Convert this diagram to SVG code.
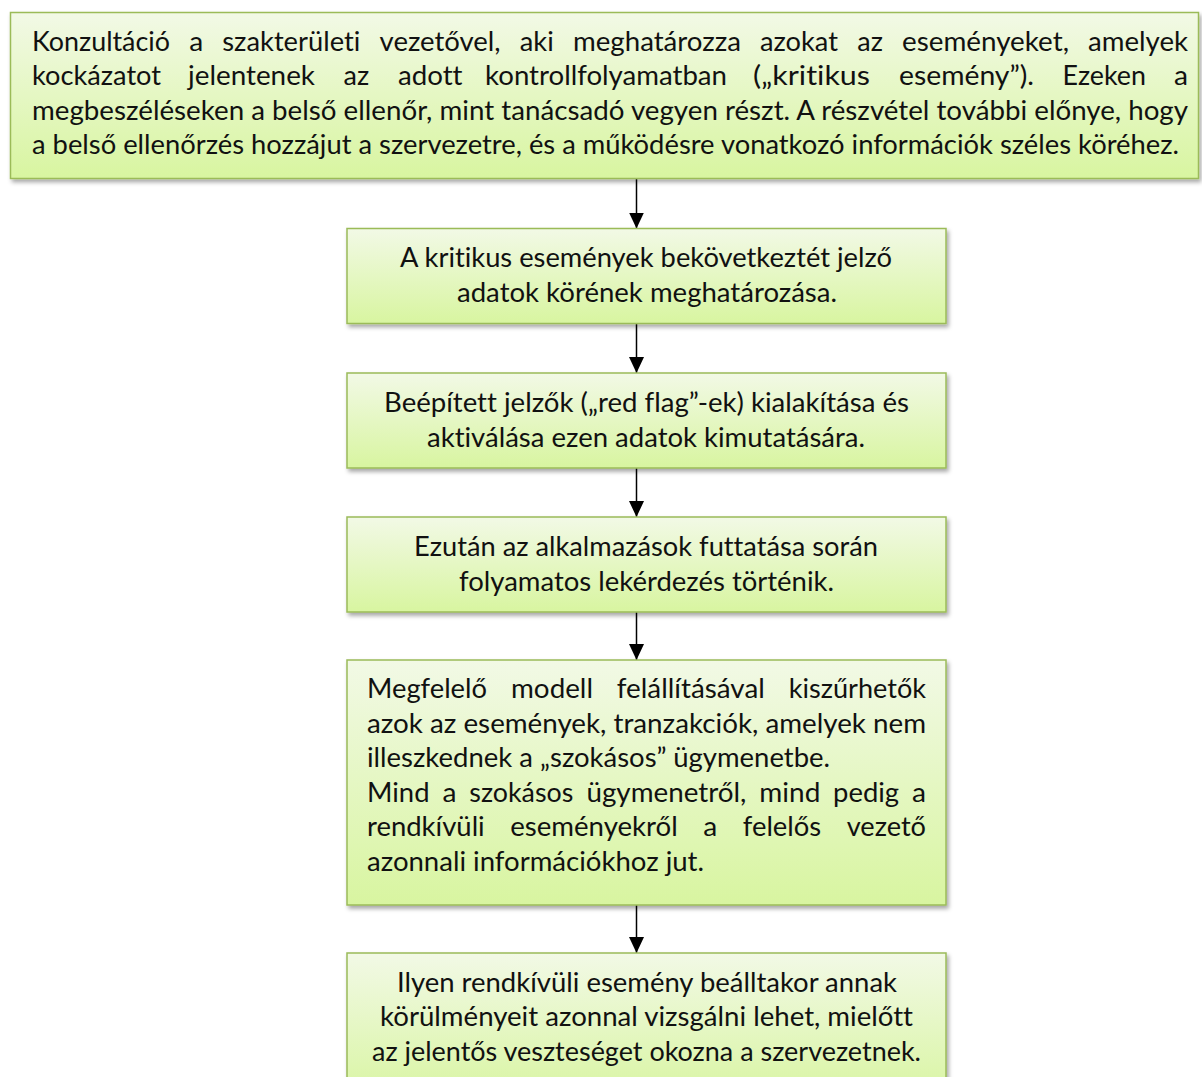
<svg xmlns="http://www.w3.org/2000/svg" width="1202" height="1077" viewBox="0 0 1202 1077">
<defs>
<linearGradient id="g" x1="0" y1="0" x2="0" y2="1">
<stop offset="0" stop-color="#f2f9e6"/>
<stop offset="1" stop-color="#d8f5a0"/>
</linearGradient>
<filter id="sh" x="-5%" y="-10%" width="110%" height="130%">
<feDropShadow dx="2" dy="3" stdDeviation="2" flood-color="#000" flood-opacity="0.35"/>
</filter>
<marker id="ah" markerWidth="16" markerHeight="15" refX="16" refY="7.5" orient="auto" markerUnits="userSpaceOnUse" viewBox="0 0 16 15">
<path d="M0,0 L16,7.5 L0,15 Z" fill="#000"/>
</marker>
<style>
.box{fill:url(#g);stroke:#9bbb59;stroke-width:1.5;filter:url(#sh)}
text{font-family:Lato,"Liberation Sans",sans-serif;font-size:27px;fill:#111;font-variant-ligatures:none}
.c{stroke:#000;stroke-width:1.5;fill:none;marker-end:url(#ah)}
</style>
</defs>
<g id="connectors">
<line class="c" x1="636.5" y1="179" x2="636.5" y2="228.5"/>
<line class="c" x1="636.5" y1="323.5" x2="636.5" y2="373"/>
<line class="c" x1="636.5" y1="468" x2="636.5" y2="517"/>
<line class="c" x1="636.5" y1="612" x2="636.5" y2="660"/>
<line class="c" x1="636.5" y1="905" x2="636.5" y2="953"/>
</g>
<g id="n1">
<rect class="box" x="10.5" y="12.5" width="1188" height="166"/>
<text x="32" y="50.5" textLength="138" lengthAdjust="spacingAndGlyphs">Konzultáció</text>
<text x="189.2" y="50.5" textLength="14" lengthAdjust="spacingAndGlyphs">a</text>
<text x="222.3" y="50.5" textLength="138" lengthAdjust="spacingAndGlyphs">szakterületi</text>
<text x="379.6" y="50.5" textLength="121" lengthAdjust="spacingAndGlyphs">vezetővel,</text>
<text x="519.8" y="50.5" textLength="34" lengthAdjust="spacingAndGlyphs">aki</text>
<text x="573" y="50.5" textLength="168" lengthAdjust="spacingAndGlyphs">meghatározza</text>
<text x="760" y="50.5" textLength="78" lengthAdjust="spacingAndGlyphs">azokat</text>
<text x="857.3" y="50.5" textLength="25.6" lengthAdjust="spacingAndGlyphs">az</text>
<text x="902" y="50.5" textLength="167" lengthAdjust="spacingAndGlyphs">eseményeket,</text>
<text x="1088.1" y="50.5" textLength="100" lengthAdjust="spacingAndGlyphs">amelyek</text>
<text x="32" y="85" textLength="129" lengthAdjust="spacingAndGlyphs">kockázatot</text>
<text x="188" y="85" textLength="127" lengthAdjust="spacingAndGlyphs">jelentenek</text>
<text x="343.5" y="85" textLength="25.6" lengthAdjust="spacingAndGlyphs">az</text>
<text x="398" y="85" textLength="64.5" lengthAdjust="spacingAndGlyphs">adott</text>
<text x="485" y="85" textLength="242" lengthAdjust="spacingAndGlyphs">kontrollfolyamatban</text>
<text x="753" y="85" textLength="117" lengthAdjust="spacingAndGlyphs">(„kritikus</text>
<text x="899" y="85" textLength="135" lengthAdjust="spacingAndGlyphs">esemény”).</text>
<text x="1062.5" y="85" textLength="83.5" lengthAdjust="spacingAndGlyphs">Ezeken</text>
<text x="1174" y="85" textLength="14" lengthAdjust="spacingAndGlyphs">a</text>
<text x="32" y="119.5" textLength="1156" lengthAdjust="spacingAndGlyphs">megbeszéléseken a belső ellenőr, mint tanácsadó vegyen részt. A részvétel további előnye, hogy</text>
<text x="32" y="154" textLength="1147" lengthAdjust="spacingAndGlyphs">a belső ellenőrzés hozzájut a szervezetre, és a működésre vonatkozó információk széles köréhez.</text>
</g>
<g id="n2">
<rect class="box" x="347" y="228.5" width="599" height="95"/>
<text x="400" y="267" textLength="492" lengthAdjust="spacingAndGlyphs">A kritikus események bekövetkeztét jelző</text>
<text x="457" y="302" textLength="380" lengthAdjust="spacingAndGlyphs">adatok körének meghatározása.</text>
</g>
<g id="n3">
<rect class="box" x="347" y="373" width="599" height="95"/>
<text x="384" y="411.5" textLength="525" lengthAdjust="spacingAndGlyphs">Beépített jelzők („red flag”-ek) kialakítása és</text>
<text x="427" y="446.5" textLength="438" lengthAdjust="spacingAndGlyphs">aktiválása ezen adatok kimutatására.</text>
</g>
<g id="n4">
<rect class="box" x="347" y="517" width="599" height="95"/>
<text x="414" y="555.5" textLength="464" lengthAdjust="spacingAndGlyphs">Ezután az alkalmazások futtatása során</text>
<text x="459" y="590.5" textLength="375" lengthAdjust="spacingAndGlyphs">folyamatos lekérdezés történik.</text>
</g>
<g id="n5">
<rect class="box" x="347" y="660" width="599" height="245"/>
<text x="367" y="698" textLength="120" lengthAdjust="spacingAndGlyphs">Megfelelő</text>
<text x="511" y="698" textLength="82" lengthAdjust="spacingAndGlyphs">modell</text>
<text x="616.8" y="698" textLength="148" lengthAdjust="spacingAndGlyphs">felállításával</text>
<text x="788.8" y="698" textLength="137.2" lengthAdjust="spacingAndGlyphs">kiszűrhetők</text>
<text x="367" y="732.5" textLength="559" lengthAdjust="spacingAndGlyphs">azok az események, tranzakciók, amelyek nem</text>
<text x="367" y="767" textLength="463" lengthAdjust="spacingAndGlyphs">illeszkednek a „szokásos” ügymenetbe.</text>
<text x="367" y="801.5" textLength="62.5" lengthAdjust="spacingAndGlyphs">Mind</text>
<text x="442.4" y="801.5" textLength="14" lengthAdjust="spacingAndGlyphs">a</text>
<text x="469.3" y="801.5" textLength="104" lengthAdjust="spacingAndGlyphs">szokásos</text>
<text x="586.4" y="801.5" textLength="160" lengthAdjust="spacingAndGlyphs">ügymenetről,</text>
<text x="759.3" y="801.5" textLength="61" lengthAdjust="spacingAndGlyphs">mind</text>
<text x="833.1" y="801.5" textLength="66" lengthAdjust="spacingAndGlyphs">pedig</text>
<text x="912" y="801.5" textLength="14" lengthAdjust="spacingAndGlyphs">a</text>
<text x="367" y="836" textLength="117.7" lengthAdjust="spacingAndGlyphs">rendkívüli</text>
<text x="510.2" y="836" textLength="167.6" lengthAdjust="spacingAndGlyphs">eseményekről</text>
<text x="703.3" y="836" textLength="14" lengthAdjust="spacingAndGlyphs">a</text>
<text x="742.8" y="836" textLength="78.4" lengthAdjust="spacingAndGlyphs">felelős</text>
<text x="846.7" y="836" textLength="79.3" lengthAdjust="spacingAndGlyphs">vezető</text>
<text x="367" y="870.5" textLength="337" lengthAdjust="spacingAndGlyphs">azonnali információkhoz jut.</text>
</g>
<g id="n6">
<rect class="box" x="347" y="953" width="599" height="150"/>
<text x="397" y="991.5" textLength="500" lengthAdjust="spacingAndGlyphs">Ilyen rendkívüli esemény beálltakor annak</text>
<text x="380" y="1026" textLength="533" lengthAdjust="spacingAndGlyphs">körülményeit azonnal vizsgálni lehet, mielőtt</text>
<text x="372" y="1060.5" textLength="549" lengthAdjust="spacingAndGlyphs">az jelentős veszteséget okozna a szervezetnek.</text>
</g>
</svg>
